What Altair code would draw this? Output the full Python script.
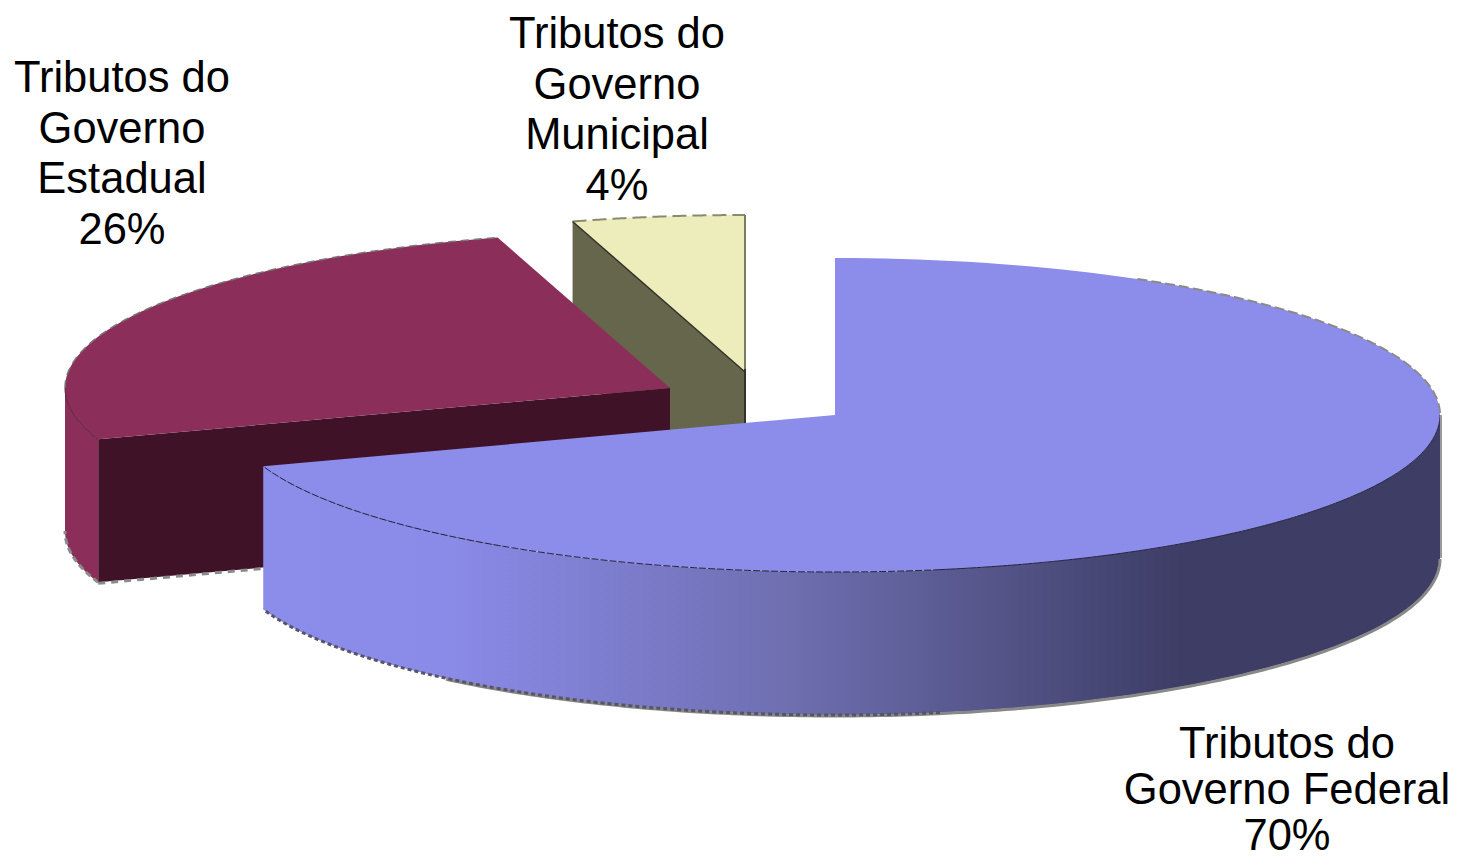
import altair as alt
import numpy as np
import pandas as pd

names = ["Federal", "Estadual", "Municipal"]
shares = [69.7, 25.7, 4.6]          # drawn shares
label_lines = [
    ["Tributos do", "Governo Federal", "70%"],
    ["Tributos do", "Governo", "Estadual", "26%"],
    ["Tributos do", "Governo", "Municipal", "4%"],
]
label_anchor = [(1287, 745), (122, 79), (617, 35)]
label_gap = [46.0, 50.5, 50.5]
top_colors = ["#8c8ceb", "#8c2e5a", "#ededbb"]
cut_colors = ["#3d3d66", "#401228", "#66664c"]
centers = [(835, 415), (670, 388), (745, 372)]
RX, RY, DEPTH = 605, 157, 143

starts = np.cumsum([0] + shares[:-1]) * 3.6
ends = np.cumsum(shares) * 3.6

def rim(i, a0, a1, dy=0, n=160):
    t = np.radians(np.linspace(a0, a1, n))
    cx, cy = centers[i]
    return cx + RX * np.sin(t), cy - RY * np.cos(t) + dy

def corner(i, deg, dy=0):
    x, y = rim(i, deg, deg, dy, 1)
    return float(x[0]), float(y[0])

X = alt.Scale(domain=[8, 1450], range=[0, 1442])
Y = alt.Scale(domain=[859, 8], range=[851, 0])
XE = alt.X("x:Q", scale=X, axis=None)
YE = alt.Y("y:Q", scale=Y, axis=None)

def poly(xs, ys, color):
    df = pd.DataFrame({"x": xs, "y": ys, "o": range(len(xs))})
    return alt.Chart(df).mark_line(
        fill=color, stroke="transparent", strokeWidth=0, interpolate="linear"
    ).encode(x=XE, y=YE, order="o:Q")

def path(xs, ys, color, width, dash=None):
    df = pd.DataFrame({"x": xs, "y": ys, "o": range(len(xs))})
    kw = dict(stroke=color, strokeWidth=width)
    if dash:
        kw["strokeDash"] = dash
    return alt.Chart(df).mark_line(**kw).encode(x=XE, y=YE, order="o:Q")

def cut_face(i, deg, color):
    cx, cy = centers[i]
    ex, ey = corner(i, deg)
    return poly([cx, ex, ex, cx, cx], [cy, ey, ey + DEPTH, cy + DEPTH, cy], color)

def top_face(i, color):
    x, y = rim(i, starts[i], ends[i])
    cx, cy = centers[i]
    return poly(np.r_[cx, x, cx], np.r_[cy, y, cy], color)

def wall(i, a0, a1, fill):
    x, y = rim(i, a0, a1)
    df = pd.DataFrame({"x": x, "y": y, "y2": y + DEPTH}).sort_values("x")
    return alt.Chart(df).mark_area(fill=fill, interpolate="linear").encode(
        x=XE, y=YE, y2="y2:Q"
    )

gradient = alt.Gradient(
    gradient="linear", x1=0, x2=1, y1=0, y2=0,
    stops=[
        alt.GradientStop(offset=0, color="#8c8ceb"),
        alt.GradientStop(offset=0.16, color="#8a8ae8"),
        alt.GradientStop(offset=0.45, color="#6e6eb0"),
        alt.GradientStop(offset=0.78, color="#3d3d66"),
        alt.GradientStop(offset=1, color="#3d3d66"),
    ],
)

rows = []
for anchor, gap, lines in zip(label_anchor, label_gap, label_lines):
    for k, line in enumerate(lines):
        rows.append({"x": anchor[0], "y": anchor[1] + k * gap, "t": line})
text = alt.Chart(pd.DataFrame(rows)).mark_text(
    font="Liberation Sans", fontSize=43.5, color="black", align="center", baseline="middle"
).encode(x=XE, y=YE, text="t:N")

mx0, my0 = corner(2, starts[2])
mx1, my1 = corner(2, 0)
layers = [
    cut_face(2, starts[2], cut_colors[2]),
    top_face(2, top_colors[2]),
    path(*rim(2, starts[2], 360), "#8a8a70", 2, [14, 6]),
    path([mx1, mx1], [my1, my1 + 154], "#7b7b60", 2),
    path([mx1, mx1], [my1 + 154, my1 + 210], "#33332a", 2),
    path([mx0, centers[2][0]], [my0, centers[2][1]], "#33332a", 1.5),
    wall(1, starts[1], 270, top_colors[1]),
    path(*rim(1, starts[1], 270, DEPTH), "#8a8a8a", 3, [6, 4]),
    cut_face(1, starts[1], cut_colors[1]),
    top_face(1, top_colors[1]),
    path(*rim(1, starts[1], 270), "#4a1830", 1),
    path(*rim(1, 270, ends[1]), "#777777", 1.5, [8, 5]),
    path(
        [corner(1, starts[1], DEPTH)[0], centers[1][0]],
        [corner(1, starts[1], DEPTH)[1] + 1, centers[1][1] + DEPTH + 1],
        "#8a8a8a", 3, [7, 6],
    ),
    wall(0, 90, ends[0], gradient),
    path(*rim(0, 90, 220, DEPTH + 1), "#888888", 3),
    path(*rim(0, 170, ends[0], DEPTH), "#555566", 3, [4, 3]),
    top_face(0, top_colors[0]),
    path(*rim(0, 170, ends[0]), "#22223a", 1, [7, 2]),
    path(*rim(0, 90, 170), "#22223a", 1),
    path(*rim(0, 30, 90), "#8a8a8a", 2, [10, 4]),
    path([corner(0, 90)[0] + 1] * 2, [corner(0, 90)[1], corner(0, 90, DEPTH)[1]], "#9a9a9a", 2),
    text,
]

chart = alt.layer(*layers).properties(
    width=1442, height=851, padding=0, background="white",
    autosize=alt.AutoSizeParams(type="none"),
).configure_view(strokeWidth=0)

chart.save("out.html", embed_options={"renderer": "svg", "actions": False})
